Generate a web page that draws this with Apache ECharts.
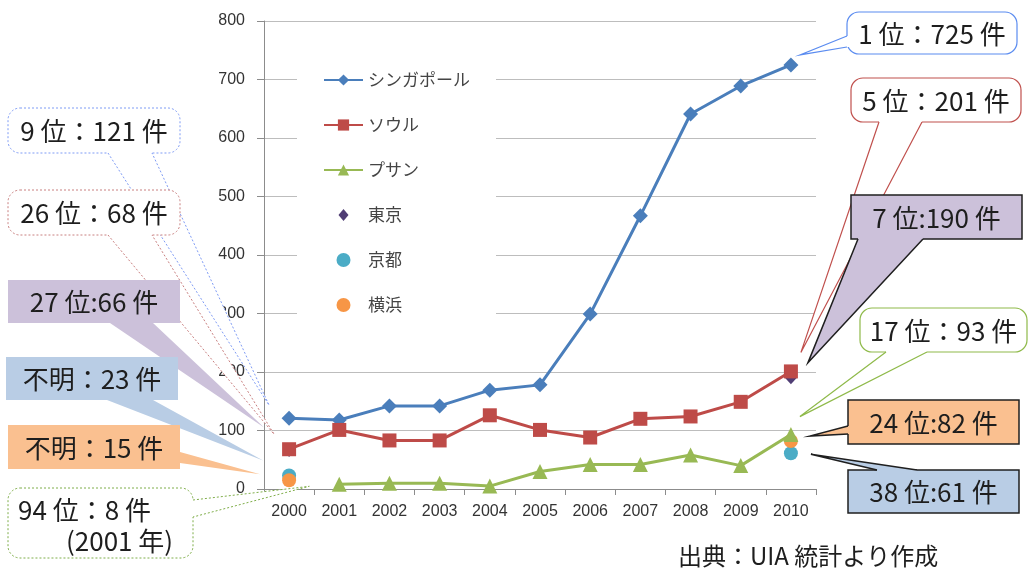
<!DOCTYPE html>
<html>
<head>
<meta charset="utf-8">
<script src="https://cdn.jsdelivr.net/npm/echarts@6/dist/echarts.min.js"></script>
<style>
  html, body { margin: 0; padding: 0; background: #fff; }
  #chart { width: 1030px; height: 570px; }
</style>
</head>
<body>
<div id="chart"></div>
<script>
// ---- data: international conferences held per city (UIA) ----
const years = ['2000', '2001', '2002', '2003', '2004', '2005', '2006', '2007', '2008', '2009', '2010'];
const singapore = [121, 118, 142, 142, 169, 178, 299, 467, 641, 689, 725];
const seoul     = [68, 101, 83, 83, 126, 101, 88, 120, 124, 149, 201];
const busan     = [null, 8, 10, 10, 5, 30, 42, 42, 58, 40, 93];
const tokyo     = [66, null, null, null, null, null, null, null, null, null, 190];
const kyoto     = [23, null, null, null, null, null, null, null, null, null, 61];
const yokohama  = [15, null, null, null, null, null, null, null, null, null, 82];

// world ranking for the annotated years (null = 不明)
const rank2000 = { 'シンガポール': 9, 'ソウル': 26, '東京': 27, '京都': null, '横浜': null };
const rank2001 = { 'プサン': 94 };
const rank2010 = { 'シンガポール': 1, 'ソウル': 5, '東京': 7, 'プサン': 17, '横浜': 24, '京都': 38 };

const yMin = 0, yMax = 800, yStep = 100;

const seriesData = {
  'シンガポール': singapore, 'ソウル': seoul, 'プサン': busan,
  '東京': tokyo, '京都': kyoto, '横浜': yokohama
};
const toSeries = arr => arr.map(v => (v == null ? '-' : v));

const FONT_JP = '"Noto Sans CJK JP", "Noto Sans", sans-serif';
const FONT_NUM = '"Liberation Sans", Arial, sans-serif';

// small diamond centred in the 39x14 legend slot (zero-length moves pin the box width)
const LEGEND_DIAMOND = 'path://M14.5,7 L19.5,1 L24.5,7 L19.5,13 Z M0,0 L0,0 M39,14 L39,14';

const chart = echarts.init(document.getElementById('chart'), null, { renderer: 'canvas' });

chart.setOption({
  animation: false,
  backgroundColor: '#ffffff',
  grid: { left: 264, top: 21, right: 214, bottom: 81, containLabel: false },
  xAxis: {
    type: 'category',
    data: years,
    boundaryGap: true,
    axisLine: { lineStyle: { color: '#8c8c8c', width: 1 } },
    axisTick: { show: true, length: 6, lineStyle: { color: '#8c8c8c' } },
    axisLabel: { color: '#333', fontSize: 16, fontFamily: FONT_NUM, margin: 15 },
    splitLine: { show: false }
  },
  yAxis: {
    type: 'value',
    min: yMin, max: yMax, interval: yStep,
    axisLine: { show: true, lineStyle: { color: '#8c8c8c', width: 1 } },
    axisTick: { show: true, length: 7, lineStyle: { color: '#8c8c8c' } },
    axisLabel: { color: '#333', fontSize: 16, fontFamily: FONT_NUM, margin: 19 },
    splitLine: { lineStyle: { color: '#bdbdbd', width: 1 } }
  },
  legend: {
    orient: 'vertical',
    left: 297, top: 51,
    padding: [20, 26, 20, 26],
    backgroundColor: '#ffffff',
    itemWidth: 39, itemHeight: 14, itemGap: 27,
    symbolKeepAspect: true,
    textStyle: { color: '#444', fontSize: 17, fontFamily: FONT_JP, lineHeight: 18 },
    data: [
      'シンガポール', 'ソウル', 'プサン',
      { name: '東京', icon: LEGEND_DIAMOND },
      '京都', '横浜'
    ]
  },
  series: [
    {
      name: 'シンガポール', type: 'line', data: toSeries(singapore),
      symbol: 'diamond', symbolSize: 15,
      lineStyle: { width: 3, color: '#4a7ebb' }, itemStyle: { color: '#4a7ebb' }
    },
    {
      name: 'ソウル', type: 'line', data: toSeries(seoul),
      symbol: 'rect', symbolSize: 14,
      lineStyle: { width: 3, color: '#be4b48' }, itemStyle: { color: '#be4b48' }
    },
    {
      name: 'プサン', type: 'line', data: toSeries(busan),
      symbol: 'triangle', symbolSize: 15,
      lineStyle: { width: 3, color: '#98b954' }, itemStyle: { color: '#98b954' }
    },
    {
      name: '東京', type: 'scatter', data: toSeries(tokyo),
      symbol: 'diamond', symbolSize: [12, 13],
      itemStyle: { color: '#4f3d74', opacity: 1 }
    },
    {
      name: '京都', type: 'scatter', data: toSeries(kyoto),
      symbol: 'circle', symbolSize: 14, itemStyle: { color: '#4bacc6', opacity: 1 }
    },
    {
      name: '横浜', type: 'scatter', data: toSeries(yokohama),
      symbol: 'circle', symbolSize: 14, itemStyle: { color: '#f79646', opacity: 1 }
    }
  ]
});

// ---- rank callouts ----
// box: [x, y, w, h]; side: edge the pointer leaves from; base: two coordinates along that edge;
// off: pointer tip offset from the marker it points at
const notes = [
  { s: 'シンガポール', i: 0, rank: rank2000['シンガポール'], sep: '：', kind: 'dotted', color: '#7f9cf5',
    box: [8, 108, 172, 45], side: 'bottom', base: [108, 152], off: [-20, -13] },
  { s: 'ソウル', i: 0, rank: rank2000['ソウル'], sep: '：', kind: 'dotted', color: '#c98080',
    box: [8, 190, 172, 45], side: 'bottom', base: [108, 152], off: [-15, -15] },
  { s: '東京', i: 0, rank: rank2000['東京'], sep: ':', kind: 'flat', color: '#ccc1da',
    box: [8, 280, 172, 43], side: 'bottom', base: [110, 153], off: [-25, -23] },
  { s: '京都', i: 0, rank: rank2000['京都'], sep: '：', kind: 'flat', color: '#b9cde5',
    box: [6, 357, 172, 43], side: 'bottom', base: [107, 153], off: [-26, -15] },
  { s: '横浜', i: 0, rank: rank2000['横浜'], sep: '：', kind: 'flat', color: '#fac090',
    box: [8, 425, 172, 44], side: 'right', base: [452, 463], off: [-29, -6] },
  { s: 'プサン', i: 1, rank: rank2001['プサン'], sep: '：', kind: 'dotted', color: '#7fae4a',
    box: [8, 488, 185, 70], side: 'right', base: [500, 517], off: [-30, 2], yearLine: true },

  { s: 'シンガポール', i: 10, rank: rank2010['シンガポール'], sep: '：', kind: 'solid', color: '#5b8cf0',
    box: [847, 12, 170, 42], side: 'left', base: [36, 47], off: [9, -10] },
  { s: 'ソウル', i: 10, rank: rank2010['ソウル'], sep: '：', kind: 'solid', color: '#c0504d',
    box: [851, 78, 170, 44], side: 'bottom', base: [879, 922], off: [10, -19] },
  { s: '東京', i: 10, rank: rank2010['東京'], sep: ':', kind: 'framed', color: '#ccc1da',
    box: [851, 195, 171, 44], side: 'bottom', base: [858, 923], off: [17, -15] },
  { s: 'プサン', i: 10, rank: rank2010['プサン'], sep: '：', kind: 'solid', color: '#8fba4a',
    box: [860, 308, 167, 44], side: 'bottom', base: [886, 927], off: [9, -18] },
  { s: '横浜', i: 10, rank: rank2010['横浜'], sep: ':', kind: 'framed', color: '#fac090',
    box: [848, 400, 171, 44], side: 'left', base: [426, 434], off: [19, -5] },
  { s: '京都', i: 10, rank: rank2010['京都'], sep: ':', kind: 'framed', color: '#b9cde5',
    box: [848, 470, 171, 43], side: 'top', base: [877, 917], off: [20, 1] }
];

function noteStyle(n) {
  switch (n.kind) {
    case 'dotted': return { fill: '#ffffff', stroke: n.color, dash: [2, 2], lw: 1, r: 12 };
    case 'solid':  return { fill: '#ffffff', stroke: n.color, dash: null, lw: 1.2, r: 12 };
    case 'framed': return { fill: n.color, stroke: '#1f1f1f', dash: null, lw: 1.5, r: 0 };
    default:       return { fill: n.color, stroke: null, dash: null, lw: 0, r: 0 };
  }
}

function buildNote(n, z) {
  const v = seriesData[n.s][n.i];
  const p = chart.convertToPixel({ gridIndex: 0 }, [n.i, v]);
  const tip = [p[0] + n.off[0], p[1] + n.off[1]];
  const [bx, by, bw, bh] = n.box;
  let a, b, d;
  if (n.side === 'bottom') { a = [n.base[0], by + bh]; b = [n.base[1], by + bh]; d = [0, -3]; }
  else if (n.side === 'top') { a = [n.base[0], by]; b = [n.base[1], by]; d = [0, 3]; }
  else if (n.side === 'left') { a = [bx, n.base[0]]; b = [bx, n.base[1]]; d = [3, 0]; }
  else { a = [bx + bw, n.base[0]]; b = [bx + bw, n.base[1]]; d = [-3, 0]; }
  const st = noteStyle(n);
  const els = [];
  els.push({
    type: 'rect', z: z, silent: true,
    shape: { x: bx, y: by, width: bw, height: bh, r: st.r },
    style: { fill: st.fill, stroke: st.stroke, lineWidth: st.lw, lineDash: st.dash }
  });
  els.push({
    type: 'polygon', z: z + 1, silent: true,
    shape: { points: [[a[0] + d[0], a[1] + d[1]], a, tip, b, [b[0] + d[0], b[1] + d[1]]] },
    style: { fill: st.fill }
  });
  if (st.stroke) {
    els.push({
      type: 'polyline', z: z + 2, silent: true,
      shape: { points: [a, tip, b] },
      style: { fill: null, stroke: st.stroke, lineWidth: st.lw, lineDash: st.dash }
    });
  }
  const head = n.rank == null ? '不明' : n.rank + ' 位';
  const label = head + n.sep + v + ' 件';
  if (n.yearLine) {
    els.push({
      type: 'text', z: z + 3, silent: true, x: bx + 10, y: by + 22,
      style: { text: label, fill: '#1e1e1e', fontSize: 26, fontFamily: FONT_JP,
               align: 'left', verticalAlign: 'middle' }
    });
    els.push({
      type: 'text', z: z + 3, silent: true, x: bx + 58, y: by + 53,
      style: { text: '(' + years[n.i] + ' 年)', fill: '#1e1e1e', fontSize: 26, fontFamily: FONT_JP,
               align: 'left', verticalAlign: 'middle' }
    });
  } else {
    els.push({
      type: 'text', z: z + 3, silent: true, x: bx + bw / 2, y: by + bh / 2 + 1,
      style: { text: label, fill: '#1e1e1e', fontSize: 26, fontFamily: FONT_JP,
               align: 'center', verticalAlign: 'middle' }
    });
  }
  return els;
}

const graphics = [];
notes.forEach((n, k) => { graphics.push(...buildNote(n, 100 + k * 5)); });
graphics.push({
  type: 'text', z: 200, silent: true, x: 678, y: 556,
  style: { text: '出典：UIA 統計より作成', fill: '#1e1e1e', fontSize: 24, fontFamily: FONT_JP,
           align: 'left', verticalAlign: 'middle' }
});

chart.setOption({ graphic: graphics });
</script>
</body>
</html>
